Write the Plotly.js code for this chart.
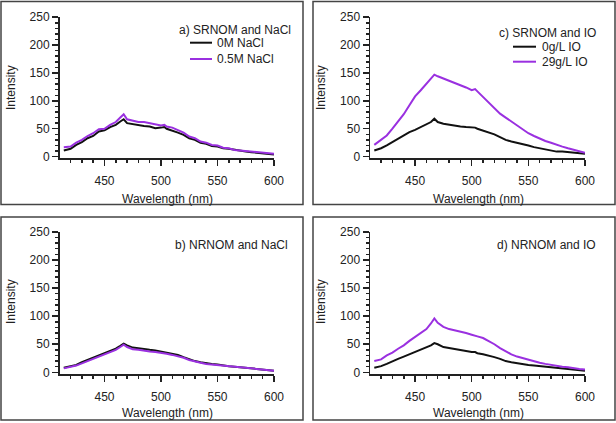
<!DOCTYPE html>
<html>
<head>
<meta charset="utf-8">
<script src="https://cdn.plot.ly/plotly-3.0.1.min.js"></script>
<style>html,body{margin:0;padding:0;background:#fff;}#chart{width:616px;height:423px;}</style>
</head>
<body>
<div id="chart"></div>
<script>
// ---- data ----
const wavelength = [414,420,425,430,435,440,445,450,455,460,464,467,470,475,480,485,490,495,500,503,505,510,515,520,525,530,535,540,545,550,555,560,565,570,575,580,585,590,595,600];

const aBlack  = [11,14,21,26,33,37,45,47,53,57,63,67,60,58,56,55,54,51,52,53,50,47,43,39,33,30,25,23,19,18,15,14,12,11,9,8,7,6,5,4];
const aPurple = [17,18,25,30,37,42,49,50,57,62,70,76,67,64,62,62,60,59,56,57,54,52,47,43,36,33,27,25,21,20,16,15,12,11,10,8,8,6,6,5];

const bBlack  = [8,10,13,18,22,27,30,34,38,42,47,51,48,44,43,41,40,39,37,36,35,33,31,27,23,20,18,16,15,14,12,11,10,9,8,7,6,5,4,3];
const bPurple = [7,9,12,16,20,25,29,33,37,40,45,49,45,41,40,38,37,36,35,34,33,31,29,26,22,19,17,15,14,13,12,11,10,9,8,7,6,5,4,3];

const cBlack  = [11,15,20,26,31,37,44,48,53,57,62,68,62,59,57,56,54,53,52,52,50,47,44,40,35,30,27,25,22,20,17,15,12,11,9,9,8,7,6,5];
const cPurple = [21,30,38,50,62,76,92,108,119,130,140,147,144,140,136,133,128,124,119,121,117,107,97,86,77,70,63,56,49,42,37,32,28,25,21,18,15,12,10,7];

const dBlack  = [8,11,15,20,24,28,32,36,40,44,48,52,50,45,43,41,40,38,36,36,34,32,30,27,24,20,18,16,14,13,12,11,10,9,8,7,6,5,4,3];
const dPurple = [20,23,30,35,42,48,56,63,70,77,87,96,88,81,77,75,73,70,67,66,64,61,56,50,43,37,32,28,25,22,19,17,15,13,11,10,9,7,6,5];

const panelTitles = ["a) SRNOM and NaCl","b) NRNOM and NaCl","c) SRNOM and IO","d) NRNOM and IO"];
const legendA = ["0M NaCl","0.5M NaCl"];
const legendC = ["0g/L IO","29g/L IO"];
const xTitle = "Wavelength (nm)";
const yTitle = "Intensity";

// ---- styling ----
const W = 616, H = 423;
const BLACK = "#111111", PURPLE = "#9a30e0", INK = "#222222";
const FONT = "Arial, 'Liberation Sans', sans-serif";
const px = x => x / W;
const py = y => 1 - y / H;

const series = [
  {x:"x",  y:"y",  k:aBlack, c:BLACK}, {x:"x",  y:"y",  k:aPurple, c:PURPLE},
  {x:"x2", y:"y2", k:bBlack, c:BLACK}, {x:"x2", y:"y2", k:bPurple, c:PURPLE},
  {x:"x3", y:"y3", k:cBlack, c:BLACK}, {x:"x3", y:"y3", k:cPurple, c:PURPLE},
  {x:"x4", y:"y4", k:dBlack, c:BLACK}, {x:"x4", y:"y4", k:dPurple, c:PURPLE}
];
const traces = series.map(s => ({
  type:"scatter", mode:"lines", x:wavelength, y:s.k, xaxis:s.x, yaxis:s.y,
  line:{color:s.c, width:2}, showlegend:false, hoverinfo:"skip"
}));

function xa(dom, anchor){
  return {domain:dom, anchor:anchor, range:[410.2,600], showline:true, linecolor:INK, linewidth:1.5,
    ticks:"outside", ticklen:6, tickwidth:1.5, tickcolor:INK, tick0:0, dtick:50,
    minor:{dtick:10, ticks:"outside", ticklen:3, tickwidth:1.5, tickcolor:INK},
    showgrid:false, zeroline:false, ticklabelstandoff:5,
    tickfont:{family:FONT, size:12, color:INK}};
}
function ya(dom, anchor){
  return {domain:dom, anchor:anchor, range:[-3,250.3], showline:true, linecolor:INK, linewidth:1.5,
    ticks:"outside", ticklen:6, tickwidth:1.5, tickcolor:INK, tick0:0, dtick:50,
    minor:{dtick:10, ticks:"outside", ticklen:3, tickwidth:1.5, tickcolor:INK},
    showgrid:false, zeroline:false,
    tickfont:{family:FONT, size:12, color:INK}};
}

const topY = [py(158.3), py(17.0)];
const botY = [py(374.0), py(231.7)];
const leftX = [px(59.5), px(274)];
const rightX = [px(370), px(585)];

const ann = [];
const shapes = [];
function txt(t, x, y, anchor, angle){
  ann.push({text:t, xref:"paper", yref:"paper", x:px(x), y:py(y), xanchor:anchor, yanchor:"middle",
    showarrow:false, textangle:angle||0, font:{family:FONT, size:12, color:INK}});
}
function seg(x0, x1, y, c){
  shapes.push({type:"line", xref:"paper", yref:"paper", x0:px(x0), x1:px(x1), y0:py(y), y1:py(y), line:{color:c, width:2}});
}
function frame(x0, y0, x1, y1){
  shapes.push({type:"rect", xref:"paper", yref:"paper", x0:px(x0), x1:px(x1), y0:py(y0), y1:py(y1), line:{color:"#444", width:1.5}});
}

// axis titles
txt(yTitle, 11, 88, "center", -90);
txt(yTitle, 321, 88, "center", -90);
txt(yTitle, 11, 302, "center", -90);
txt(yTitle, 321, 302, "center", -90);
txt(xTitle, 167, 199, "center");
txt(xTitle, 478, 199, "center");
txt(xTitle, 167, 413, "center");
txt(xTitle, 478, 413, "center");

// panel labels + legends
txt(panelTitles[0], 293, 30, "right");
seg(190, 212, 42.7, BLACK); txt(legendA[0], 215, 42.7, "left");
seg(190, 212, 59, PURPLE);  txt(legendA[1], 215, 59, "left");
txt(panelTitles[1], 290, 245, "right");
txt(panelTitles[2], 597.5, 32.7, "right");
seg(513, 536, 46.7, BLACK); txt(legendC[0], 539.5, 46.7, "left");
seg(513, 536, 61.7, PURPLE); txt(legendC[1], 539.5, 61.7, "left");
txt(panelTitles[3], 597.5, 245, "right");

// frames
frame(1, 1.5, 303, 204.5);
frame(313, 1.5, 615, 204.5);
frame(1, 217, 303, 420);
frame(313, 217, 615, 420);

const layout = {
  width:W, height:H, margin:{l:0,r:0,t:0,b:0}, paper_bgcolor:"#fff", plot_bgcolor:"#fff",
  showlegend:false, font:{family:FONT, color:INK},
  xaxis: xa(leftX, "y"),  yaxis: ya(topY, "x"),
  xaxis2:xa(leftX, "y2"), yaxis2:ya(botY, "x2"),
  xaxis3:xa(rightX,"y3"), yaxis3:ya(topY, "x3"),
  xaxis4:xa(rightX,"y4"), yaxis4:ya(botY, "x4"),
  annotations:ann, shapes:shapes
};
Plotly.newPlot("chart", traces, layout, {staticPlot:true, displayModeBar:false});
</script>
</body>
</html>
